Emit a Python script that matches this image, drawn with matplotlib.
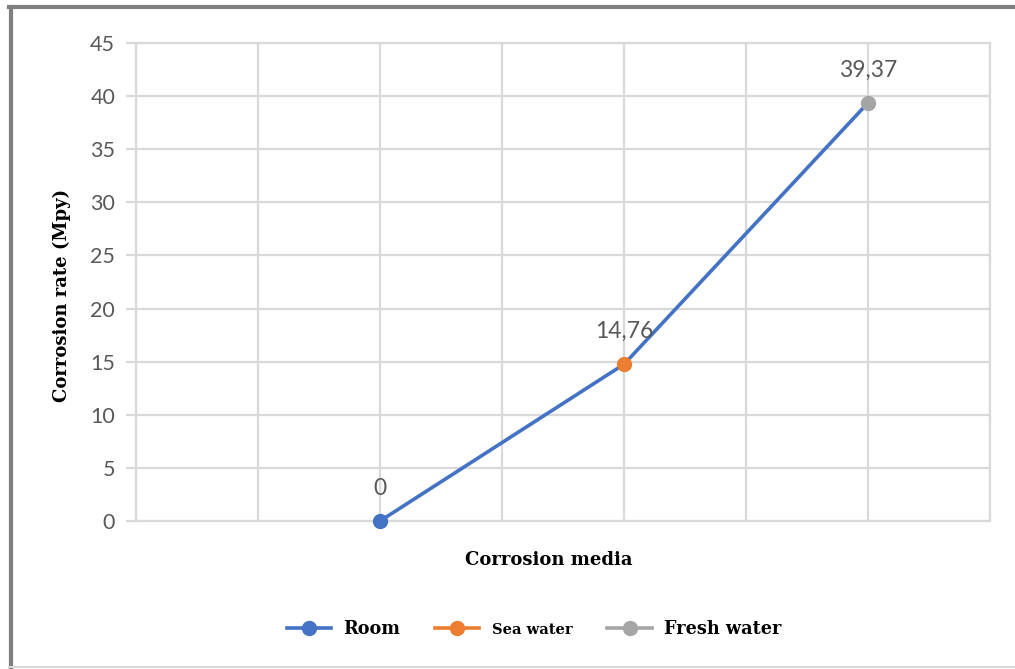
import matplotlib.pyplot as plt
from matplotlib.lines import Line2D

# Corrosion rate for each medium
media = ['Room', 'Sea water', 'Fresh water']
positions = [2, 4, 6]
rates = [0, 14.76, 39.37]
rate_labels = ['0', '14,76', '39,37']
colors = ['#4472C4', '#ED7D31', '#A5A5A5']

fig = plt.figure(figsize=(10.15, 6.69), dpi=100)
ax = fig.add_axes([0.134, 0.2212, 0.8414, 0.7145])

grid_c = '#D9D9D9'
ax.set_xlim(0, 7)
ax.set_ylim(0, 45)
ax.set_xticks(range(0, 8))
ax.set_yticks(range(0, 50, 5))
ax.grid(True, color=grid_c, linewidth=1.6)
ax.set_axisbelow(True)
for s in ax.spines.values():
    s.set_color(grid_c)
    s.set_linewidth(1.6)
ax.tick_params(axis='x', length=0, labelbottom=False)
ax.tick_params(axis='y', length=7, color=grid_c, width=1.6, pad=8,
               labelsize=15.5, labelcolor='#595959')
for lab in ax.get_yticklabels():
    lab.set_fontfamily('Lato')

# line through all points, then coloured markers per medium
ax.plot(positions, rates, color='#4472C4', linewidth=2.6, zorder=3, clip_on=False)
for x, y, c, t in zip(positions, rates, colors, rate_labels):
    ax.plot(x, y, 'o', color=c, markersize=10, zorder=4, clip_on=False)
    ax.annotate(t, (x, y), xytext=(0, 16), textcoords='offset points',
                ha='center', va='bottom', fontsize=16.5, color='#595959',
                fontfamily='Lato')

fig.text(0.541, 0.163, 'Corrosion media', ha='center', va='center',
         fontsize=13, fontweight='bold', fontfamily='DejaVu Serif')
fig.text(0.061, 0.559, 'Corrosion rate (Mpy)', ha='center', va='center',
         rotation=90, fontsize=13, fontweight='bold',
         fontfamily='DejaVu Serif')

handles = [Line2D([], [], color=c, marker='o', markersize=10, linewidth=2.6)
           for c in colors]
leg = fig.legend(handles, media, loc='center', bbox_to_anchor=(0.526, 0.06),
                 ncol=3, frameon=False, handlelength=2.5, handletextpad=0.7,
                 columnspacing=2.0,
                 prop={'family': 'DejaVu Serif', 'weight': 'bold', 'size': 12.7})
leg.get_texts()[1].set_fontsize(10.5)

# outer frame of the chart image
fig.add_artist(Line2D([0.0105, 0.0105], [0.0, 0.99], color='#7F7F7F',
                      linewidth=3, transform=fig.transFigure))
fig.add_artist(Line2D([0.009, 1.0], [0.99, 0.99], color='#7F7F7F',
                      linewidth=3, transform=fig.transFigure))
fig.add_artist(Line2D([0.009, 1.0], [0.003, 0.003], color='#D9D9D9',
                      linewidth=1.5, transform=fig.transFigure))

fig.savefig('out.png', dpi=100)
